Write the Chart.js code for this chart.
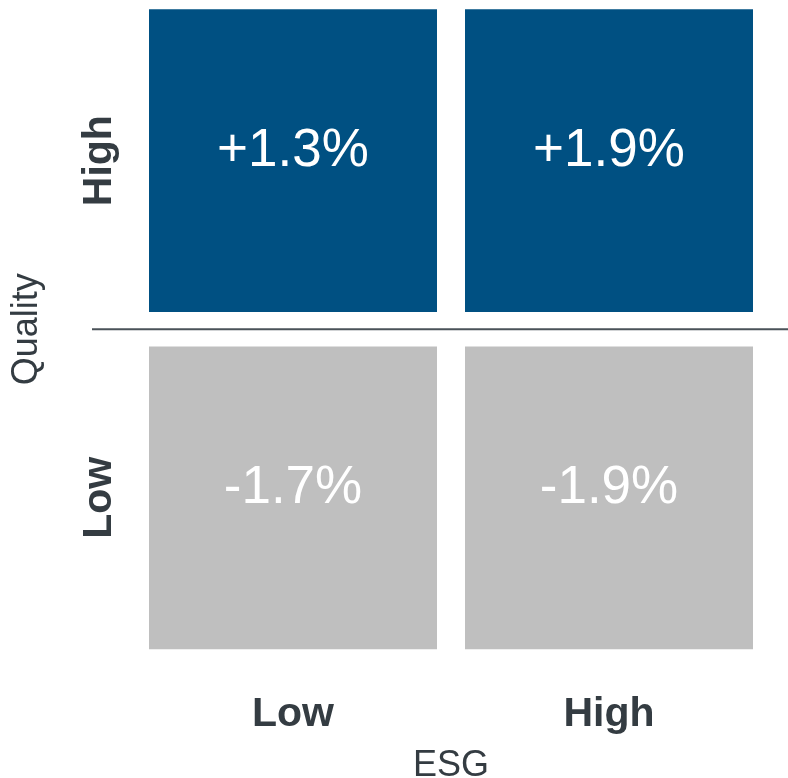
<!DOCTYPE html>
<html>
<head>
<meta charset="utf-8">
<script src="https://cdn.jsdelivr.net/npm/chart.js@4.4.1/dist/chart.umd.min.js"></script>
<style>
  html, body { margin: 0; padding: 0; background: #ffffff; overflow: hidden; }
  #wrap { width: 788px; height: 786px; position: absolute; left: 0; top: -8px; }
</style>
</head>
<body>
<div id="wrap"><canvas id="c"></canvas></div>
<script>
// ---- data ----
const esgLabels = ['Low', 'High'];          // x categories (ESG)
const qualityLabels = ['Low', 'High'];      // y rows (Quality), bottom to top
const highQualityValues = [1.3, 1.9];       // % excess return, High quality row
const lowQualityValues = [-1.7, -1.9];      // % excess return, Low quality row
const xTitle = 'ESG';
const yTitle = 'Quality';

// ---- styles ----
const FONT = '"Liberation Sans", Arial, Helvetica, sans-serif';
const TEXT = '#343c42';
const BLUE = '#005082';
const GREY = '#bfbfbf';

function fmt(v) {
  return (v > 0 ? '+' : '') + v.toFixed(1) + '%';
}

function rowDataset(rowIndex, values, color) {
  return {
    label: qualityLabels[rowIndex],
    data: esgLabels.map(() => [rowIndex, rowIndex + 1]),
    values: values,
    backgroundColor: color,
    borderColor: '#ffffff',
    borderWidth: { top: 17.25, bottom: 17.25, left: 0, right: 0 },
    borderSkipped: false,
    borderRadius: 0,
    grouped: false,
    barPercentage: 0.9114,
    categoryPercentage: 1
  };
}

const valueLabels = {
  id: 'valueLabels',
  afterDatasetsDraw(chart) {
    const ctx = chart.ctx;
    ctx.save();
    // divider between quality rows, positioned through the y scale
    const yScale = chart.scales.y;
    const yDiv = yScale.getPixelForValue(1);
    ctx.strokeStyle = '#4a5258';
    ctx.lineWidth = 2;
    ctx.beginPath();
    ctx.moveTo(chart.chartArea.left - 43, yDiv);
    ctx.lineTo(chart.width, yDiv);
    ctx.stroke();

    ctx.fillStyle = '#ffffff';
    ctx.font = '53px ' + FONT;
    ctx.textAlign = 'center';
    ctx.textBaseline = 'middle';
    chart.data.datasets.forEach((ds, di) => {
      const meta = chart.getDatasetMeta(di);
      meta.data.forEach((el, i) => {
        const p = el.getCenterPoint();
        ctx.fillText(fmt(ds.values[i]), p.x, p.y - 9);
      });
    });
    ctx.restore();
  }
};

new Chart(document.getElementById('c'), {
  type: 'bar',
  data: {
    labels: esgLabels,
    datasets: [
      rowDataset(1, highQualityValues, BLUE),
      rowDataset(0, lowQualityValues, GREY)
    ]
  },
  options: {
    responsive: true,
    maintainAspectRatio: false,
    animation: false,
    events: [],
    layout: { padding: { top: 0, right: 21, bottom: 0, left: 0 } },
    plugins: {
      legend: { display: false },
      tooltip: { enabled: false },
      title: { display: false }
    },
    scales: {
      x: {
        type: 'category',
        grid: { display: false },
        border: { display: false },
        ticks: {
          color: TEXT,
          font: { family: FONT, size: 41, weight: 'bold' },
          padding: 16,
          maxRotation: 0
        },
        title: {
          display: true,
          text: xTitle,
          color: TEXT,
          font: { family: FONT, size: 36, lineHeight: 0.67 },
          padding: 0
        },
        afterFit(scale) {
          scale.height = 111.5;
          scale.paddingLeft = 0;
          scale.paddingRight = 0;
        }
      },
      y: {
        type: 'linear',
        min: 0,
        max: 2,
        grid: { display: false },
        border: { display: false },
        afterBuildTicks(scale) {
          scale.ticks = qualityLabels.map((_, i) => ({ value: i + 0.5 }));
        },
        ticks: {
          color: TEXT,
          font: { family: FONT, size: 41, weight: 'bold' },
          minRotation: 90,
          maxRotation: 90,
          crossAlign: 'center',
          padding: -18,
          callback(value) { return qualityLabels[Math.floor(value)]; }
        },
        title: {
          display: true,
          text: yTitle,
          color: TEXT,
          font: { family: FONT, size: 36 },
          padding: { top: 5, bottom: 0 }
        },
        afterFit(scale) {
          scale.width = 135;
          scale.paddingTop = 0;
          scale.paddingBottom = 0;
        }
      }
    }
  },
  plugins: [valueLabels]
});
</script>
</body>
</html>
